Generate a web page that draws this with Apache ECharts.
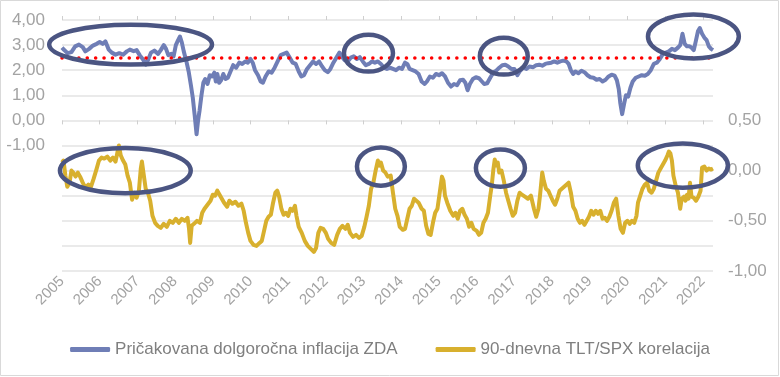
<!DOCTYPE html>
<html>
<head>
<meta charset="utf-8">
<script src="https://cdn.jsdelivr.net/npm/echarts@6/dist/echarts.min.js"></script>
<style>
    html, body { margin: 0; padding: 0; background: #fff; }
    #chart { width: 780px; height: 377px; }
</style>
</head>
<body>
<div id="chart"></div>
<script>
// leta na osi x
var tickYears = [2005, 2006, 2007, 2008, 2009, 2010, 2011, 2012, 2013, 2014, 2015, 2016, 2017, 2018, 2019, 2020, 2021, 2022];

var inflName = 'Pričakovana dolgoročna inflacija ZDA';
var corrName = '90-dnevna TLT/SPX korelacija';
var targetLevel = 2.5;

// [leto, vrednost] - leva os
var inflation = [
    [2005.00, 2.90], [2005.06, 2.80], [2005.15, 2.68], [2005.25, 2.72], [2005.35, 2.95], [2005.45, 3.02],
    [2005.55, 2.92], [2005.62, 2.75], [2005.72, 2.85], [2005.82, 2.98], [2005.92, 3.05], [2006.00, 3.12],
    [2006.08, 3.05], [2006.15, 3.15], [2006.24, 2.82], [2006.32, 2.70], [2006.42, 2.62], [2006.52, 2.68],
    [2006.62, 2.62], [2006.72, 2.75], [2006.80, 2.82], [2006.90, 2.76], [2006.98, 2.80], [2007.06, 2.60],
    [2007.14, 2.45], [2007.22, 2.22], [2007.28, 2.40], [2007.36, 2.70], [2007.45, 2.78], [2007.55, 2.65],
    [2007.62, 2.80], [2007.70, 3.00], [2007.76, 2.85], [2007.82, 2.60], [2007.90, 2.65], [2007.96, 2.55],
    [2008.02, 3.00], [2008.08, 3.20], [2008.13, 3.34], [2008.18, 3.10], [2008.23, 2.75], [2008.30, 2.35],
    [2008.36, 1.95], [2008.42, 1.40], [2008.47, 0.90], [2008.52, 0.20], [2008.57, -0.55], [2008.61, 0.00],
    [2008.65, 0.40], [2008.70, 1.00], [2008.75, 1.50], [2008.80, 1.65], [2008.86, 1.45], [2008.92, 1.80],
    [2008.98, 1.75], [2009.04, 1.90], [2009.08, 1.55], [2009.12, 1.85], [2009.17, 1.50], [2009.22, 1.60],
    [2009.28, 1.85], [2009.34, 1.65], [2009.40, 1.70], [2009.47, 1.95], [2009.54, 2.20], [2009.62, 2.10],
    [2009.70, 2.30], [2009.78, 2.25], [2009.86, 2.35], [2009.93, 2.30], [2010.00, 2.45], [2010.06, 2.30],
    [2010.12, 2.00], [2010.20, 1.80], [2010.27, 1.55], [2010.33, 1.50], [2010.40, 1.75], [2010.48, 1.95],
    [2010.56, 1.90], [2010.64, 2.10], [2010.72, 2.35], [2010.80, 2.60], [2010.88, 2.65], [2010.96, 2.70],
    [2011.04, 2.50], [2011.12, 2.30], [2011.20, 2.25], [2011.28, 1.95], [2011.35, 1.75], [2011.42, 1.80],
    [2011.50, 2.05], [2011.58, 2.20], [2011.66, 2.35], [2011.74, 2.25], [2011.82, 2.35], [2011.90, 2.15],
    [2011.97, 2.00], [2012.05, 1.92], [2012.12, 2.05], [2012.20, 2.30], [2012.28, 2.50], [2012.36, 2.70],
    [2012.42, 2.55], [2012.50, 2.40], [2012.58, 2.35], [2012.66, 2.50], [2012.74, 2.55], [2012.82, 2.45],
    [2012.90, 2.52], [2012.98, 2.35], [2013.06, 2.20], [2013.14, 2.25], [2013.22, 2.35], [2013.30, 2.30],
    [2013.38, 2.35], [2013.46, 2.25], [2013.54, 2.10], [2013.62, 2.05], [2013.70, 2.10], [2013.78, 2.05],
    [2013.86, 2.00], [2013.94, 2.10], [2014.02, 2.05], [2014.10, 2.30], [2014.16, 2.25], [2014.22, 2.05],
    [2014.30, 2.00], [2014.38, 1.95], [2014.46, 1.85], [2014.54, 1.55], [2014.62, 1.45], [2014.68, 1.55],
    [2014.76, 1.75], [2014.84, 1.70], [2014.92, 1.85], [2015.00, 1.80], [2015.08, 1.88], [2015.16, 1.75],
    [2015.24, 1.50], [2015.32, 1.35], [2015.40, 1.45], [2015.48, 1.40], [2015.56, 1.60], [2015.64, 1.62],
    [2015.70, 1.50], [2015.76, 1.20], [2015.82, 1.45], [2015.90, 1.65], [2015.98, 1.72], [2016.06, 1.68],
    [2016.14, 1.55], [2016.20, 1.45], [2016.28, 1.48], [2016.36, 1.70], [2016.44, 1.90], [2016.52, 1.98],
    [2016.60, 2.10], [2016.68, 2.20], [2016.76, 2.22], [2016.84, 2.15], [2016.92, 2.05], [2017.00, 2.05],
    [2017.08, 1.80], [2017.14, 1.95], [2017.24, 2.10], [2017.32, 2.05], [2017.40, 2.15], [2017.50, 2.12],
    [2017.58, 2.20], [2017.66, 2.22], [2017.74, 2.18], [2017.82, 2.25], [2017.90, 2.28], [2017.98, 2.30],
    [2018.06, 2.35], [2018.14, 2.30], [2018.22, 2.35], [2018.30, 2.38], [2018.38, 2.35], [2018.44, 2.25],
    [2018.50, 2.00], [2018.56, 1.85], [2018.62, 1.95], [2018.70, 1.88], [2018.78, 1.98], [2018.86, 1.92],
    [2018.94, 1.80], [2019.02, 1.72], [2019.10, 1.70], [2019.18, 1.62], [2019.26, 1.65], [2019.34, 1.55],
    [2019.42, 1.62], [2019.50, 1.75], [2019.58, 1.82], [2019.66, 1.78], [2019.72, 1.60], [2019.77, 1.25],
    [2019.81, 0.70], [2019.86, 0.25], [2019.91, 0.65], [2019.96, 1.00], [2020.02, 0.95], [2020.08, 1.30],
    [2020.14, 1.55], [2020.22, 1.70], [2020.30, 1.75], [2020.38, 1.80], [2020.46, 1.78], [2020.54, 1.85],
    [2020.62, 2.00], [2020.70, 2.25], [2020.78, 2.30], [2020.86, 2.45], [2020.94, 2.65], [2021.02, 2.70],
    [2021.10, 2.75], [2021.18, 2.85], [2021.26, 2.80], [2021.34, 2.90], [2021.40, 3.00], [2021.46, 3.45],
    [2021.52, 3.05], [2021.58, 2.95], [2021.64, 2.95], [2021.70, 2.90], [2021.76, 2.80], [2021.82, 3.20],
    [2021.87, 3.55], [2021.92, 3.68], [2021.98, 3.45], [2022.04, 3.30], [2022.10, 3.20], [2022.16, 2.95],
    [2022.22, 2.85], [2022.27, 2.80]
];

// [leto, vrednost] - desna os
var correlation = [
    [2005.00, 0.08], [2005.04, 0.10], [2005.09, -0.05], [2005.14, -0.16], [2005.20, -0.12], [2005.25, 0.00],
    [2005.30, -0.02], [2005.36, -0.06], [2005.42, -0.02], [2005.48, -0.06], [2005.55, -0.12], [2005.62, -0.17],
    [2005.70, -0.14], [2005.77, -0.16], [2005.84, -0.08], [2005.92, 0.02], [2005.98, 0.10], [2006.05, 0.13],
    [2006.12, 0.12], [2006.20, 0.14], [2006.28, 0.10], [2006.35, 0.13], [2006.42, 0.09], [2006.47, 0.18],
    [2006.51, 0.25], [2006.56, 0.15], [2006.62, 0.10], [2006.68, 0.06], [2006.74, -0.05], [2006.80, -0.12],
    [2006.86, -0.29], [2006.92, -0.22], [2006.98, -0.27], [2007.04, -0.20], [2007.09, 0.02], [2007.12, 0.09],
    [2007.16, -0.02], [2007.22, -0.18], [2007.28, -0.22], [2007.34, -0.30], [2007.40, -0.45], [2007.47, -0.52],
    [2007.54, -0.55], [2007.62, -0.57], [2007.70, -0.53], [2007.78, -0.56], [2007.86, -0.50], [2007.94, -0.52],
    [2008.02, -0.48], [2008.10, -0.52], [2008.18, -0.48], [2008.26, -0.50], [2008.33, -0.47], [2008.37, -0.58],
    [2008.40, -0.72], [2008.44, -0.55], [2008.50, -0.53], [2008.58, -0.50], [2008.66, -0.52], [2008.72, -0.42],
    [2008.78, -0.38], [2008.86, -0.34], [2008.94, -0.30], [2009.00, -0.24], [2009.06, -0.25], [2009.12, -0.20],
    [2009.18, -0.24], [2009.24, -0.28], [2009.30, -0.32], [2009.38, -0.36], [2009.44, -0.30], [2009.52, -0.33],
    [2009.60, -0.31], [2009.68, -0.35], [2009.76, -0.33], [2009.82, -0.40], [2009.88, -0.52], [2009.94, -0.62],
    [2010.00, -0.70], [2010.08, -0.74], [2010.16, -0.75], [2010.24, -0.72], [2010.30, -0.70], [2010.36, -0.60],
    [2010.42, -0.50], [2010.48, -0.46], [2010.54, -0.44], [2010.60, -0.32], [2010.66, -0.22], [2010.71, -0.20],
    [2010.76, -0.26], [2010.82, -0.38], [2010.88, -0.44], [2010.94, -0.42], [2011.00, -0.45], [2011.06, -0.38],
    [2011.12, -0.40], [2011.18, -0.35], [2011.22, -0.45], [2011.28, -0.56], [2011.36, -0.62], [2011.44, -0.70],
    [2011.52, -0.75], [2011.60, -0.78], [2011.68, -0.81], [2011.74, -0.77], [2011.80, -0.62], [2011.86, -0.57],
    [2011.93, -0.58], [2012.00, -0.62], [2012.06, -0.68], [2012.14, -0.72], [2012.22, -0.74], [2012.30, -0.64],
    [2012.37, -0.58], [2012.44, -0.55], [2012.52, -0.58], [2012.58, -0.54], [2012.64, -0.62], [2012.72, -0.66],
    [2012.80, -0.64], [2012.88, -0.67], [2012.95, -0.65], [2013.02, -0.56], [2013.08, -0.46], [2013.14, -0.35],
    [2013.20, -0.18], [2013.26, -0.12], [2013.32, 0.00], [2013.38, 0.10], [2013.42, 0.05], [2013.46, 0.08],
    [2013.52, 0.00], [2013.58, -0.02], [2013.64, -0.06], [2013.72, -0.05], [2013.78, -0.22], [2013.84, -0.38],
    [2013.90, -0.45], [2013.96, -0.56], [2014.04, -0.59], [2014.10, -0.58], [2014.16, -0.48], [2014.22, -0.38],
    [2014.28, -0.35], [2014.34, -0.28], [2014.40, -0.30], [2014.46, -0.32], [2014.54, -0.38], [2014.60, -0.40],
    [2014.66, -0.55], [2014.72, -0.63], [2014.78, -0.64], [2014.84, -0.52], [2014.90, -0.42], [2014.96, -0.38],
    [2015.02, -0.22], [2015.08, -0.06], [2015.12, -0.10], [2015.16, -0.25], [2015.22, -0.32], [2015.30, -0.40],
    [2015.38, -0.45], [2015.44, -0.42], [2015.50, -0.48], [2015.56, -0.40], [2015.62, -0.38], [2015.68, -0.44],
    [2015.74, -0.48], [2015.80, -0.56], [2015.86, -0.52], [2015.92, -0.58], [2016.00, -0.60], [2016.06, -0.64],
    [2016.12, -0.62], [2016.18, -0.52], [2016.24, -0.48], [2016.30, -0.42], [2016.36, -0.25], [2016.40, -0.15],
    [2016.44, 0.00], [2016.48, 0.11], [2016.52, 0.05], [2016.56, 0.08], [2016.60, -0.02], [2016.66, 0.00],
    [2016.72, -0.10], [2016.78, -0.22], [2016.84, -0.30], [2016.90, -0.38], [2016.96, -0.45], [2017.02, -0.42],
    [2017.08, -0.30], [2017.14, -0.22], [2017.20, -0.24], [2017.28, -0.26], [2017.36, -0.28], [2017.44, -0.25],
    [2017.52, -0.38], [2017.58, -0.46], [2017.64, -0.38], [2017.68, -0.25], [2017.74, -0.02], [2017.78, -0.10],
    [2017.84, -0.18], [2017.90, -0.20], [2017.96, -0.25], [2018.02, -0.30], [2018.08, -0.34], [2018.14, -0.28],
    [2018.20, -0.20], [2018.26, -0.18], [2018.32, -0.16], [2018.38, -0.14], [2018.44, -0.12], [2018.50, -0.22],
    [2018.56, -0.36], [2018.62, -0.40], [2018.68, -0.48], [2018.74, -0.52], [2018.80, -0.50], [2018.86, -0.54],
    [2018.92, -0.50], [2018.98, -0.46], [2019.04, -0.40], [2019.10, -0.44], [2019.16, -0.40], [2019.22, -0.43],
    [2019.28, -0.40], [2019.34, -0.48], [2019.40, -0.47], [2019.46, -0.50], [2019.52, -0.46], [2019.58, -0.40],
    [2019.64, -0.32], [2019.70, -0.28], [2019.76, -0.45], [2019.82, -0.58], [2019.88, -0.62], [2019.94, -0.52],
    [2020.00, -0.50], [2020.06, -0.53], [2020.12, -0.50], [2020.18, -0.52], [2020.24, -0.45], [2020.28, -0.32],
    [2020.34, -0.25], [2020.40, -0.18], [2020.46, -0.14], [2020.52, -0.12], [2020.58, -0.20], [2020.64, -0.22],
    [2020.70, -0.18], [2020.76, -0.10], [2020.82, -0.02], [2020.88, 0.02], [2020.94, 0.06], [2021.00, 0.10],
    [2021.06, 0.15], [2021.10, 0.19], [2021.14, 0.17], [2021.18, 0.10], [2021.22, -0.05], [2021.28, -0.15],
    [2021.34, -0.22], [2021.40, -0.38], [2021.44, -0.28], [2021.50, -0.26], [2021.54, -0.30], [2021.58, -0.24],
    [2021.62, -0.28], [2021.66, -0.12], [2021.70, -0.26], [2021.76, -0.27], [2021.82, -0.30], [2021.88, -0.26],
    [2021.94, -0.20], [2021.98, 0.03], [2022.04, 0.04], [2022.10, 0.00], [2022.16, 0.02], [2022.22, 0.01],
    [2022.27, 0.02]
];

// oznake (elipse): [sredina leto, sredina vrednost, sirina v letih, visina v enotah osi]
var circlesTop = [
    [2006.82, 3.02, 4.32, 1.59],
    [2013.13, 2.68, 1.30, 1.47],
    [2016.72, 2.56, 1.27, 1.47],
    [2021.75, 3.34, 2.41, 1.75]
];
var circlesBottom = [
    [2006.68, 0.00, 3.47, 0.45],
    [2013.46, 0.04, 1.27, 0.38],
    [2016.63, 0.025, 1.30, 0.37],
    [2021.47, 0.05, 2.39, 0.44]
];

var gray = '#a3a3a3';
var font = '"Liberation Sans", Arial, sans-serif';

function comma(v) {
    return v.toFixed(2).replace('.', ',').replace('-0,00', '0,00');
}

function drawEllipse(params, api) {
    var c = api.coord([api.value(0), api.value(1)]);
    var s = api.size([api.value(2), api.value(3)]);
    return {
        type: 'ellipse',
        shape: { cx: c[0], cy: c[1], rx: s[0] / 2, ry: s[1] / 2 },
        style: { fill: 'none', stroke: '#4b5582', lineWidth: 4.5 }
    };
}

var myChart = echarts.init(document.getElementById('chart'));

var xBase = {
    type: 'value',
    min: 2005,
    max: 2022.27,
    splitLine: { show: false },
    axisLine: { show: false, onZero: false },
    axisTick: { show: false },
    axisLabel: { show: false }
};

var option = {
    animation: false,
    backgroundColor: '#fff',
    graphic: [{
        type: 'rect',
        silent: true,
        shape: { x: 0.5, y: 0.5, width: 778, height: 375 },
        style: { fill: 'none', stroke: '#d9d9d9', lineWidth: 1 }
    }],
    grid: { left: 62, right: 67, top: 20, bottom: 106 },
    legend: {
        top: 336,
        left: 'center',
        itemWidth: 40,
        itemHeight: 5,
        itemGap: 38,
        icon: 'roundRect',
        data: [inflName, corrName],
        textStyle: { color: '#7f7f7f', fontSize: 17, fontFamily: font }
    },
    xAxis: [
        Object.assign({}, xBase, {
            position: 'bottom',
            axisLabel: {
                show: true,
                rotate: 45,
                margin: 8,
                color: gray,
                fontSize: 15,
                fontFamily: font,
                customValues: tickYears,
                formatter: function (v) { return String(Math.round(v)); }
            }
        }),
        // kljukice zgoraj
        Object.assign({}, xBase, {
            position: 'top',
            axisTick: { show: true, length: 4, customValues: tickYears, lineStyle: { color: '#cfcfcf', width: 1 } }
        }),
        // kljukice na nicli leve osi
        Object.assign({}, xBase, {
            position: 'bottom',
            axisLine: { show: false, onZero: true, onZeroAxisIndex: 0 },
            axisTick: { show: true, length: 4, customValues: tickYears, lineStyle: { color: '#cfcfcf', width: 1 } }
        })
    ],
    yAxis: [
        {
            type: 'value',
            min: -6,
            max: 4,
            interval: 1,
            axisLine: { show: false },
            axisTick: { show: false },
            splitLine: { lineStyle: { color: '#e3e3e3', width: 1.5 } },
            axisLabel: {
                color: gray,
                fontSize: 17,
                fontFamily: font,
                margin: 17,
                formatter: function (v) { return v >= -1 ? comma(v) : ''; }
            }
        },
        {
            type: 'value',
            min: -1,
            max: 1.5,
            interval: 0.5,
            position: 'right',
            axisLine: { show: false },
            axisTick: { show: false },
            splitLine: { show: false },
            axisLabel: {
                color: gray,
                fontSize: 17,
                fontFamily: font,
                margin: 15,
                formatter: function (v) { return v <= 0.5 ? comma(v) : ''; }
            }
        }
    ],
    series: [
        {
            name: inflName,
            type: 'line',
            yAxisIndex: 0,
            data: inflation,
            showSymbol: false,
            symbol: 'none',
            color: '#6f7eb6',
            lineStyle: { width: 4, color: '#6f7eb6', join: 'round' },
            markLine: {
                silent: true,
                symbol: 'none',
                label: { show: false },
                lineStyle: { color: '#ff0000', width: 3.5, type: [0.1, 8.3], cap: 'round' },
                data: [{ yAxis: targetLevel }]
            }
        },
        {
            name: corrName,
            type: 'line',
            yAxisIndex: 1,
            data: correlation,
            showSymbol: false,
            symbol: 'none',
            color: '#d8b02e',
            lineStyle: { width: 4, color: '#d8b02e', join: 'round' }
        },
        {
            type: 'custom',
            yAxisIndex: 0,
            silent: true,
            z: 5,
            encode: { x: 0, y: 1 },
            renderItem: drawEllipse,
            data: circlesTop
        },
        {
            type: 'custom',
            yAxisIndex: 1,
            silent: true,
            z: 5,
            encode: { x: 0, y: 1 },
            renderItem: drawEllipse,
            data: circlesBottom
        }
    ]
};

myChart.setOption(option);
</script>
</body>
</html>
